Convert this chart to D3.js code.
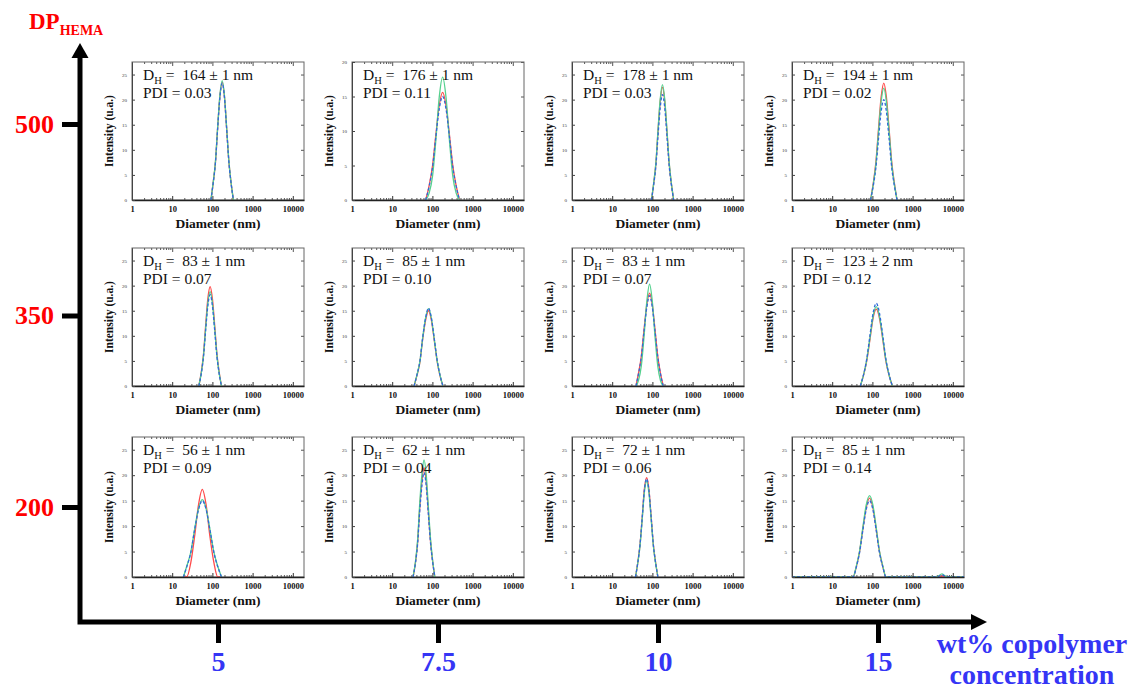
<!DOCTYPE html>
<html><head><meta charset="utf-8">
<script src="https://cdn.jsdelivr.net/npm/d3@7"></script>
<style>body{margin:0;background:#fff} svg{display:block}</style>
</head><body><svg id="c" width="1132" height="691"></svg>
<script>
// ---------- data ----------
const concentrations = ["5", "7.5", "10", "15"];
const dpLevels = [500, 350, 200];
const dhValues = ["164 ± 1 nm","176 ± 1 nm","178 ± 1 nm","194 ± 1 nm",
                  "83 ± 1 nm","85 ± 1 nm","83 ± 1 nm","123 ± 2 nm",
                  "56 ± 1 nm","62 ± 1 nm","72 ± 1 nm","85 ± 1 nm"];
const pdiValues = ["0.03","0.11","0.03","0.02","0.07","0.10","0.07","0.12","0.09","0.04","0.06","0.14"];
const yMaxValues = [27.5,20,27.5,27.5, 27.5,27.5,27.5,27.5, 27.5,27.5,27.5,27.5];
const xTickValues = [1, 10, 100, 1000, 10000];

const panelDiameters = [
  [92,104,119,135,154,175,199,226,258,293,333],
  [68,83,101,122,148,180,218,265,321,390,473],
  [95,107,122,138,157,178,202,230,262,298,338],
  [90,105,122,142,165,192,223,260,303,353,410],
  [46,53,60,68,77,88,100,114,130,147,168],
  [35,41,49,57,68,80,94,111,132,155,183],
  [39,45,53,62,73,85,99,116,136,159,186],
  [50,60,72,87,104,125,150,181,217,261,314],
  [19,23,29,36,45,56,70,87,109,136,169],
  [33,38,43,48,55,62,70,79,90,102,115],
  [38,43,49,56,63,72,82,93,106,121,137],
  [1,33,40,48,58,70,85,103,124,150,181,218,3900,5400,7200,19000]
];
const redSeries = [
  [0,3.3,7.5,14.3,20.7,23.5,20.7,14.3,7.5,3.3,0],
  [0,2.1,5.0,9.5,13.7,15.6,13.7,9.5,5.0,2.1,0],
  [0,3.1,7.2,13.7,19.8,22.5,19.8,13.7,7.2,3.1,0],
  [0,3.3,7.5,14.2,20.5,23.3,20.5,14.2,7.5,3.3,0],
  [0,2.8,6.3,12.1,17.4,19.8,17.4,12.1,6.3,2.8,0],
  [0,2.0,4.8,9.2,13.2,15.0,13.2,9.2,4.8,2.0,0],
  [0,2.5,5.9,11.3,16.3,18.5,16.3,11.3,5.9,2.5,0],
  [0,2.1,4.9,9.3,13.5,15.3,13.5,9.3,4.9,2.1,0],
  [0,0,2.8,7.9,14.1,17.2,14.1,7.9,2.8,0,0],
  [0,2.9,6.9,13.1,18.9,21.5,18.9,13.1,6.9,2.9,0],
  [0,2.7,6.2,11.9,17.2,19.5,17.2,11.9,6.2,2.7,0],
  [0,0,2.1,5.0,9.5,13.6,15.5,13.6,9.5,5.0,2.1,0,0,0.2,0,0]
];
const greenSeries = [
  [0,3.3,7.6,14.5,20.9,23.8,20.9,14.5,7.6,3.3,0],
  [0,1.0,3.5,8.7,14.9,17.8,14.9,8.7,3.5,1.0,0],
  [0,3.2,7.4,14.0,20.2,23.0,20.2,14.0,7.4,3.2,0],
  [0,3.1,7.1,13.6,19.6,22.3,19.6,13.6,7.1,3.1,0],
  [0,2.6,6.0,11.5,16.5,18.8,16.5,11.5,6.0,2.6,0],
  [0,2.1,4.9,9.4,13.6,15.4,13.6,9.4,4.9,2.1,0],
  [0,1.1,4.0,9.9,17.0,20.3,17.0,9.9,4.0,1.1,0],
  [0,2.1,5.1,9.6,13.9,15.8,13.9,9.6,5.1,2.1,0],
  [0,2.1,4.9,9.3,13.4,15.2,13.4,9.3,4.9,2.1,0],
  [0,3.1,7.4,14.0,20.2,23.0,20.2,14.0,7.4,3.1,0],
  [0,2.6,6.0,11.5,16.5,18.8,16.5,11.5,6.0,2.6,0],
  [0,0,2.2,5.1,9.8,14.1,16.0,14.1,9.8,5.1,2.2,0,0,0.6,0,0]
];
const blueSeries = [
  [0,3.2,7.4,14.2,20.5,23.3,20.5,14.2,7.4,3.2,0],
  [0,2.0,4.8,9.2,13.2,15.0,13.2,9.2,4.8,2.0,0],
  [0,2.9,6.7,12.8,18.5,21.0,18.5,12.8,6.7,2.9,0],
  [0,2.8,6.4,12.2,17.6,20.0,17.6,12.2,6.4,2.8,0],
  [0,2.5,5.8,11.1,16.0,18.2,16.0,11.1,5.8,2.5,0],
  [0,2.1,5.0,9.5,13.6,15.5,13.6,9.5,5.0,2.1,0],
  [0,2.4,5.8,11.0,15.8,18.0,15.8,11.0,5.8,2.4,0],
  [0,2.2,5.3,10.1,14.5,16.5,14.5,10.1,5.3,2.2,0],
  [0,2.0,4.8,9.2,13.2,15.0,13.2,9.2,4.8,2.0,0],
  [0,2.8,6.6,12.5,18.0,20.5,18.0,12.5,6.6,2.8,0],
  [0,2.6,6.2,11.8,17.0,19.3,17.0,11.8,6.2,2.6,0],
  [0,0,2.0,4.8,9.2,13.2,15.0,13.2,9.2,4.8,2.0,0,0,0.4,0,0]
];

// ---------- layout ----------
const serif = "'Liberation Serif','Times New Roman',serif";
const red = "#ff0000", blue = "#3535f5";
const svg = d3.select("#c");
const panelW = 172;
const rowTops = [62, 248, 437];
const rowHeights = [138, 138, 140];
const axisY = 622, axisX = 80;

const colScale = d3.scalePoint().domain(concentrations).range([218, 878]);
const dpScale = d3.scaleLinear().domain([200, 500]).range([507, 124]);

// ---------- panels ----------
const seriesDefs = [
  {data: redSeries, color: "#ff4a4a", dash: null},
  {data: greenSeries, color: "#55d08e", dash: null},
  {data: blueSeries, color: "#2f6ad8", dash: "3,2"}
];

for (let i = 0; i < 12; i++) {
  const col = i % 4, row = Math.floor(i / 4);
  const left = colScale(concentrations[col]) - panelW / 2;
  const top = rowTops[row], h = rowHeights[row];
  const x = d3.scaleLog().domain([1, 19000]).range([0, panelW]);
  const y = d3.scaleLinear().domain([0, yMaxValues[i]]).range([h, 0]);
  const yt = yMaxValues[i] === 20 ? [0,5,10,15,20] : [0,5,10,15,20,25];
  const g = svg.append("g").attr("transform", `translate(${left},${top})`);

  const minor = [];
  for (let k = 0; k < 5; k++) for (let m = 2; m <= 9; m++) { const v = m * Math.pow(10, k); if (v < 19000) minor.push(v); }

  g.append("g").attr("transform", `translate(0,${h})`)
    .call(d3.axisBottom(x).tickValues(minor).tickSize(-2).tickFormat(""))
    .call(a => a.select(".domain").remove()).selectAll("line").attr("stroke", "#555");
  g.append("g")
    .call(d3.axisTop(x).tickValues(minor).tickSize(-2).tickFormat(""))
    .call(a => a.select(".domain").remove()).selectAll("line").attr("stroke", "#555");
  g.append("g")
    .call(d3.axisTop(x).tickValues(xTickValues).tickSize(-4).tickFormat(""))
    .call(a => a.select(".domain").remove()).selectAll("line").attr("stroke", "#555");
  g.append("g").attr("transform", `translate(${panelW},0)`)
    .call(d3.axisRight(y).tickValues(yt).tickSize(-3).tickFormat(""))
    .call(a => a.select(".domain").remove()).selectAll("line").attr("stroke", "#555");

  g.append("rect").attr("width", panelW).attr("height", h)
    .attr("fill", "none").attr("stroke", "#666").attr("stroke-width", 1);

  const line = d3.line().x(d => x(d[0])).y(d => y(d[1])).curve(d3.curveMonotoneX);
  seriesDefs.forEach(s => {
    const pts = panelDiameters[i].map((d, j) => [d, s.data[i][j]]);
    g.append("path").attr("d", line(pts)).attr("fill", "none")
      .attr("stroke", s.color).attr("stroke-width", 1.3)
      .attr("stroke-dasharray", s.dash);
  });

  const bx = g.append("g").attr("transform", `translate(0,${h})`)
    .call(d3.axisBottom(x).tickValues(xTickValues).tickFormat(d3.format("d"))
      .tickSizeInner(-4).tickSizeOuter(0).tickPadding(4));
  bx.select(".domain").attr("stroke", "#222").attr("stroke-width", 1.5);
  bx.selectAll("line").attr("stroke", "#333");
  bx.selectAll("text").attr("font-family", serif).attr("font-size", 8.5)
    .attr("font-weight", "bold").attr("fill", "#111").attr("dy", "0.9em");

  const ly = g.append("g")
    .call(d3.axisLeft(y).tickValues(yt).tickSizeInner(-3).tickSizeOuter(0).tickPadding(5));
  ly.select(".domain").attr("stroke", "#444");
  ly.selectAll("line").attr("stroke", "#444");
  ly.selectAll("text").attr("font-family", serif).attr("font-size", 5).attr("fill", "#333");

  g.append("text").attr("transform", `translate(-19,${h / 2}) rotate(-90)`)
    .attr("text-anchor", "middle").attr("font-family", serif).attr("font-weight", "bold")
    .attr("font-size", 11.5).attr("fill", "#111").text("Intensity (u.a.)");
  g.append("text").attr("x", panelW / 2).attr("y", h + 28)
    .attr("text-anchor", "middle").attr("font-family", serif).attr("font-weight", "bold")
    .attr("font-size", 13.5).attr("fill", "#111").text("Diameter (nm)");

  const t1 = g.append("text").attr("x", 11).attr("y", 18).attr("font-family", serif)
    .attr("font-size", 15.5).attr("fill", "#111").style("white-space", "pre");
  t1.append("tspan").text("D");
  t1.append("tspan").attr("font-size", 10.5).attr("dy", 4).text("H");
  t1.append("tspan").attr("dy", -4).text(" =  " + dhValues[i]);
  g.append("text").attr("x", 11).attr("y", 36).attr("font-family", serif)
    .attr("font-size", 15.5).attr("fill", "#111").text("PDI = " + pdiValues[i]);
}

// ---------- main axes ----------
svg.append("path").attr("d", `M${axisX},56 V${axisY} H973`)
  .attr("fill", "none").attr("stroke", "#000").attr("stroke-width", 5)
  .attr("stroke-linejoin", "miter").attr("stroke-linecap", "square");
svg.append("path").attr("d", `M${axisX - 8.5},58 L${axisX + 8.5},58 L${axisX},43 Z`).attr("fill", "#000");
svg.append("path").attr("d", `M971,${axisY - 8} L971,${axisY + 8} L987,${axisY} Z`).attr("fill", "#000");

const yAx = svg.append("g").attr("transform", `translate(${axisX},0)`)
  .call(d3.axisLeft(dpScale).tickValues(dpLevels).tickSize(18).tickPadding(8).tickFormat(d3.format("d")));
yAx.select(".domain").remove();
yAx.selectAll("line").attr("stroke", "#000").attr("stroke-width", 5);
yAx.selectAll("text").attr("font-family", serif).attr("font-weight", "bold")
  .attr("font-size", 26).attr("fill", red);

const xAx = svg.append("g").attr("transform", `translate(0,${axisY})`)
  .call(d3.axisBottom(colScale).tickSize(21).tickPadding(8));
xAx.select(".domain").remove();
xAx.selectAll("line").attr("stroke", "#000").attr("stroke-width", 5);
xAx.selectAll("text").attr("font-family", serif).attr("font-weight", "bold")
  .attr("font-size", 28).attr("fill", blue);

const dp = svg.append("text").attr("x", 29).attr("y", 29).attr("font-family", serif)
  .attr("font-weight", "bold").attr("font-size", 23).attr("fill", red);
dp.append("tspan").text("DP");
dp.append("tspan").attr("font-size", 14).attr("dy", 6).text("HEMA");

svg.append("text").attr("x", 1032).attr("y", 653).attr("text-anchor", "middle")
  .attr("font-family", serif).attr("font-weight", "bold").attr("font-size", 28)
  .attr("fill", blue).text("wt% copolymer");
svg.append("text").attr("x", 1032).attr("y", 684).attr("text-anchor", "middle")
  .attr("font-family", serif).attr("font-weight", "bold").attr("font-size", 28)
  .attr("fill", blue).text("concentration");
</script></body></html>
